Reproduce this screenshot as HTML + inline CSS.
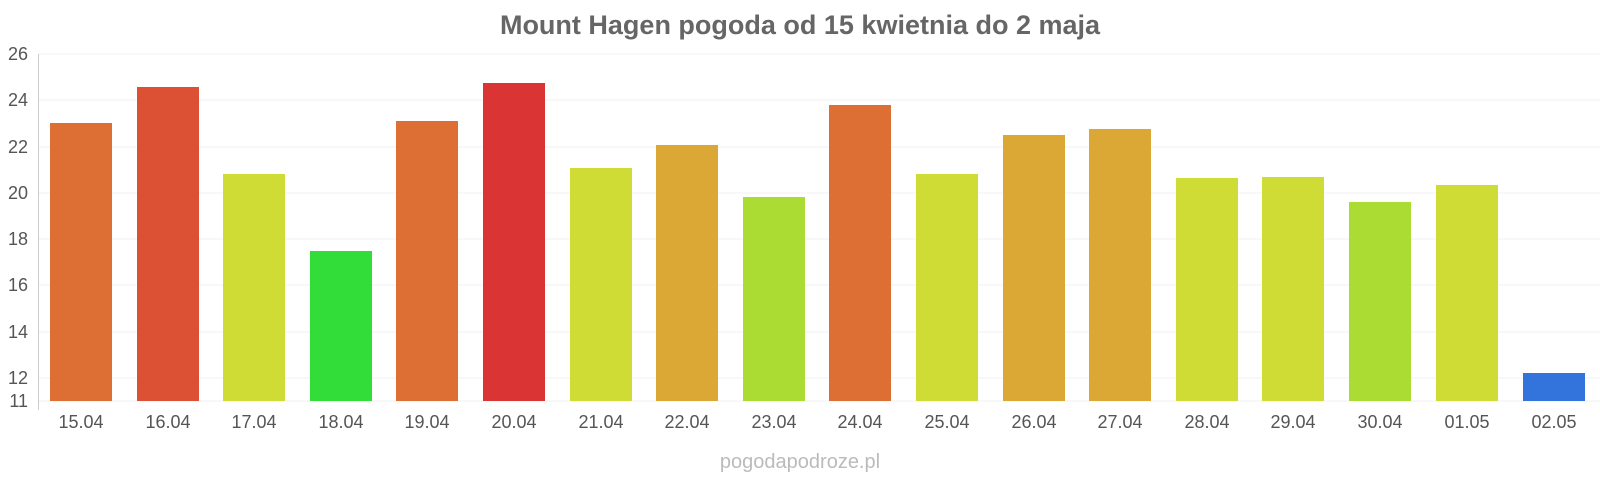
<!DOCTYPE html>
<html><head><style>body{margin:0;background:#fff;}svg{display:block}</style></head><body>
<svg width="1600" height="480" xmlns="http://www.w3.org/2000/svg" font-family="Liberation Sans, sans-serif">
<text x="800" y="34" text-anchor="middle" font-size="27" font-weight="bold" fill="#666">Mount Hagen pogoda od 15 kwietnia do 2 maja</text>
<g stroke="#f0f0f0" stroke-width="1">
<line x1="38" x2="1600" y1="54" y2="54"/><line x1="38" x2="1600" y1="100" y2="100"/><line x1="38" x2="1600" y1="147" y2="147"/><line x1="38" x2="1600" y1="193" y2="193"/><line x1="38" x2="1600" y1="239" y2="239"/><line x1="38" x2="1600" y1="285" y2="285"/><line x1="38" x2="1600" y1="332" y2="332"/><line x1="38" x2="1600" y1="378" y2="378"/><line x1="38" x2="1600" y1="401" y2="401"/>
</g>
<line x1="38.5" x2="38.5" y1="54" y2="410" stroke="#ccc"/>
<g font-size="18" fill="#555" text-anchor="end">
<text x="28" y="60">26</text><text x="28" y="106">24</text><text x="28" y="153">22</text><text x="28" y="199">20</text><text x="28" y="245">18</text><text x="28" y="291">16</text><text x="28" y="338">14</text><text x="28" y="384">12</text><text x="28" y="407">11</text>
</g>
<g>
<rect x="50" y="123" width="62" height="278" fill="#dd6f35"/>
<rect x="137" y="87" width="62" height="314" fill="#dc5133"/>
<rect x="223" y="174" width="62" height="227" fill="#cfdc35"/>
<rect x="310" y="251" width="62" height="150" fill="#32dd3a"/>
<rect x="396" y="121" width="62" height="280" fill="#dd6f35"/>
<rect x="483" y="83" width="62" height="318" fill="#da3434"/>
<rect x="570" y="168" width="62" height="233" fill="#cfdc35"/>
<rect x="656" y="145" width="62" height="256" fill="#dca835"/>
<rect x="743" y="197" width="62" height="204" fill="#abdc33"/>
<rect x="829" y="105" width="62" height="296" fill="#dd6f35"/>
<rect x="916" y="174" width="62" height="227" fill="#cfdc35"/>
<rect x="1003" y="135" width="62" height="266" fill="#dca835"/>
<rect x="1089" y="129" width="62" height="272" fill="#dca835"/>
<rect x="1176" y="178" width="62" height="223" fill="#cfdc35"/>
<rect x="1262" y="177" width="62" height="224" fill="#cfdc35"/>
<rect x="1349" y="202" width="62" height="199" fill="#abdc33"/>
<rect x="1436" y="185" width="62" height="216" fill="#cfdc35"/>
<rect x="1523" y="373" width="62" height="28" fill="#3273dc"/>
</g>
<g font-size="18" fill="#555" text-anchor="middle">
<text x="81" y="428">15.04</text><text x="168" y="428">16.04</text><text x="254" y="428">17.04</text><text x="341" y="428">18.04</text><text x="427" y="428">19.04</text><text x="514" y="428">20.04</text><text x="601" y="428">21.04</text><text x="687" y="428">22.04</text><text x="774" y="428">23.04</text><text x="860" y="428">24.04</text><text x="947" y="428">25.04</text><text x="1034" y="428">26.04</text><text x="1120" y="428">27.04</text><text x="1207" y="428">28.04</text><text x="1293" y="428">29.04</text><text x="1380" y="428">30.04</text><text x="1467" y="428">01.05</text><text x="1554" y="428">02.05</text>
</g>
<text x="800" y="468" text-anchor="middle" font-size="20" fill="#bbb">pogodapodroze.pl</text>
</svg>
</body></html>
